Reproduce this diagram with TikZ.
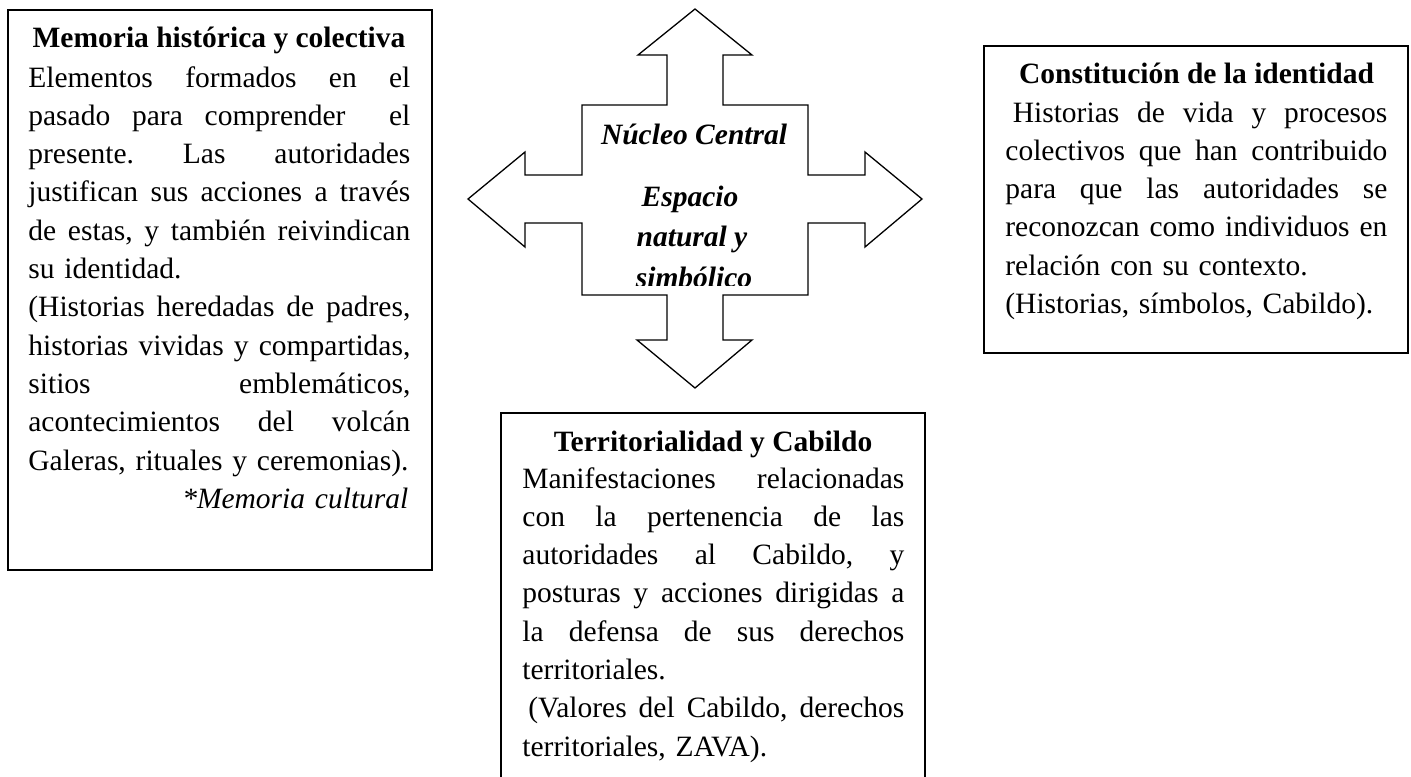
\documentclass[tikz,border=0pt]{standalone}
\usepackage{fontspec}
\setmainfont{Liberation Serif}
\newlength{\tw}\setlength{\tw}{191pt}
\newcommand{\jl}[1]{\leavevmode\hbox to \tw{\frenchspacing\spaceskip=0.25em plus 1fil\xspaceskip=0.25em plus 1fil\relax #1}}
\newcommand{\jli}[2]{\leavevmode\hbox to \tw{\hspace*{#1}\frenchspacing\spaceskip=0.25em plus 1fil\xspaceskip=0.25em plus 1fil\relax #2}}
\begin{document}
\begin{tikzpicture}[x=0.5pt,y=-0.5pt,
  boxline/.style={line width=1pt},
  crossline/.style={line width=0.65pt, line join=miter},
  bodytext/.style={inner sep=0pt, text width=\tw, align=left, anchor=base west,
    font=\fontsize{14.75pt}{19.15pt}\selectfont},
  titletext/.style={inner sep=0pt, anchor=base, font=\fontsize{14.75pt}{19.15pt}\selectfont\bfseries},
  crosstext/.style={inner sep=0pt, anchor=base, font=\fontsize{14.75pt}{19.15pt}\selectfont\bfseries\itshape}]
\useasboundingbox (0,0) rectangle (1411,776);
% boxes
\draw[boxline] (8,10) rectangle (432,570);
\draw[boxline] (984,46) rectangle (1408,353);
\draw[boxline] (501,800) -- (501,413) -- (925,413) -- (925,800);
% cross
\draw[crossline] (695,9) -- (752,55) -- (723,55) -- (723,105) -- (808,105) -- (808,175)
  -- (865,175) -- (865,152) -- (922,199) -- (865,247) -- (865,223) -- (808,223)
  -- (808,295) -- (723,295) -- (723,340) -- (752,340) -- (695,388) -- (637,340)
  -- (667,340) -- (667,295) -- (582,295) -- (582,223) -- (525,223) -- (525,247)
  -- (468,199) -- (525,152) -- (525,175) -- (582,175) -- (582,105) -- (667,105)
  -- (667,55) -- (638,55) -- cycle;
\node[crosstext] (nucleo) at (694,144) {Núcleo Central};
\node[crosstext] (espacio) at (690,206) {Espacio};
\node[crosstext] (natural) at (692,246) {natural y};
\begin{scope}
\clip (582,105) rectangle (808,285);
\node[crosstext] (simbolico) at (694,287) {simbólico};
\end{scope}
% left box
\node[titletext] (ltitle) at (219,47) {Memoria histórica y colectiva};
\node[bodytext] (lbody) at (28,87) {%
\jl{Elementos formados en el}\\
\jl{pasado para comprender\ \ el}\\
\jl{presente. Las autoridades}\\
\jl{justifican sus acciones a través}\\
\jl{de estas, y también reivindican}\\
su identidad.\\
\jl{(Historias heredadas de padres,}\\
\jl{historias vividas y compartidas,}\\
\jl{sitios emblemáticos,}\\
\jl{acontecimientos del volcán}\\
Galeras, rituales y ceremonias).\\
\makebox[\tw][r]{\itshape *Memoria cultural\hspace*{1pt}}};
% right box
\node[titletext] (rtitle) at (1196.5,83) {Constitución de la identidad};
\node[bodytext] (rbody) at (1005,122) {%
\jli{3.7pt}{Historias de vida y procesos}\\
\jl{colectivos que han contribuido}\\
\jl{para que las autoridades se}\\
\jl{reconozcan como individuos en}\\
relación con su contexto.\\
(Historias, símbolos, Cabildo).};
% bottom box
\node[titletext] (btitle) at (713,451) {Territorialidad y Cabildo};
\node[bodytext] (bbody) at (522,488) {%
\jl{Manifestaciones relacionadas}\\
\jl{con la pertenencia de las}\\
\jl{autoridades al Cabildo, y}\\
\jl{posturas y acciones dirigidas a}\\
\jl{la defensa de sus derechos}\\
territoriales.\\
\jli{3pt}{(Valores del Cabildo, derechos}\\
territoriales, ZAVA).};
\end{tikzpicture}
\end{document}
